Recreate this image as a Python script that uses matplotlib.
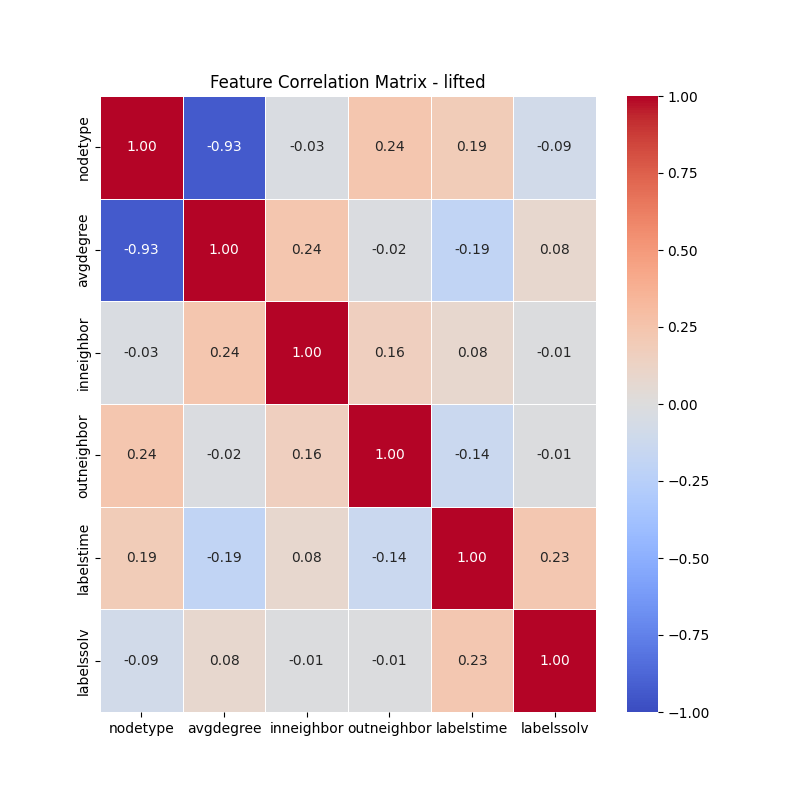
import matplotlib
matplotlib.use("Agg")
import matplotlib.pyplot as plt
import seaborn as sns
import numpy as np
import pandas as pd

labels = ["nodetype", "avgdegree", "inneighbor", "outneighbor", "labelstime", "labelssolv"]
row_nodetype = [1.00, -0.93, -0.03, 0.24, 0.19, -0.09]
row_avgdegree = [-0.93, 1.00, 0.24, -0.02, -0.19, 0.08]
row_inneighbor = [-0.03, 0.24, 1.00, 0.16, 0.08, -0.01]
row_outneighbor = [0.24, -0.02, 0.16, 1.00, -0.14, -0.01]
row_labelstime = [0.19, -0.19, 0.08, -0.14, 1.00, 0.23]
row_labelssolv = [-0.09, 0.08, -0.01, -0.01, 0.23, 1.00]

corr = pd.DataFrame([row_nodetype, row_avgdegree, row_inneighbor,
                     row_outneighbor, row_labelstime, row_labelssolv],
                    index=labels, columns=labels)

fig = plt.figure(figsize=(8, 8), dpi=100)
ax = sns.heatmap(corr, annot=True, fmt=".2f", cmap="coolwarm", vmin=-1, vmax=1,
                 linewidths=0.5, linecolor="white")
ax.set_title("Feature Correlation Matrix - lifted")
fig.savefig("out.png", dpi=100)
